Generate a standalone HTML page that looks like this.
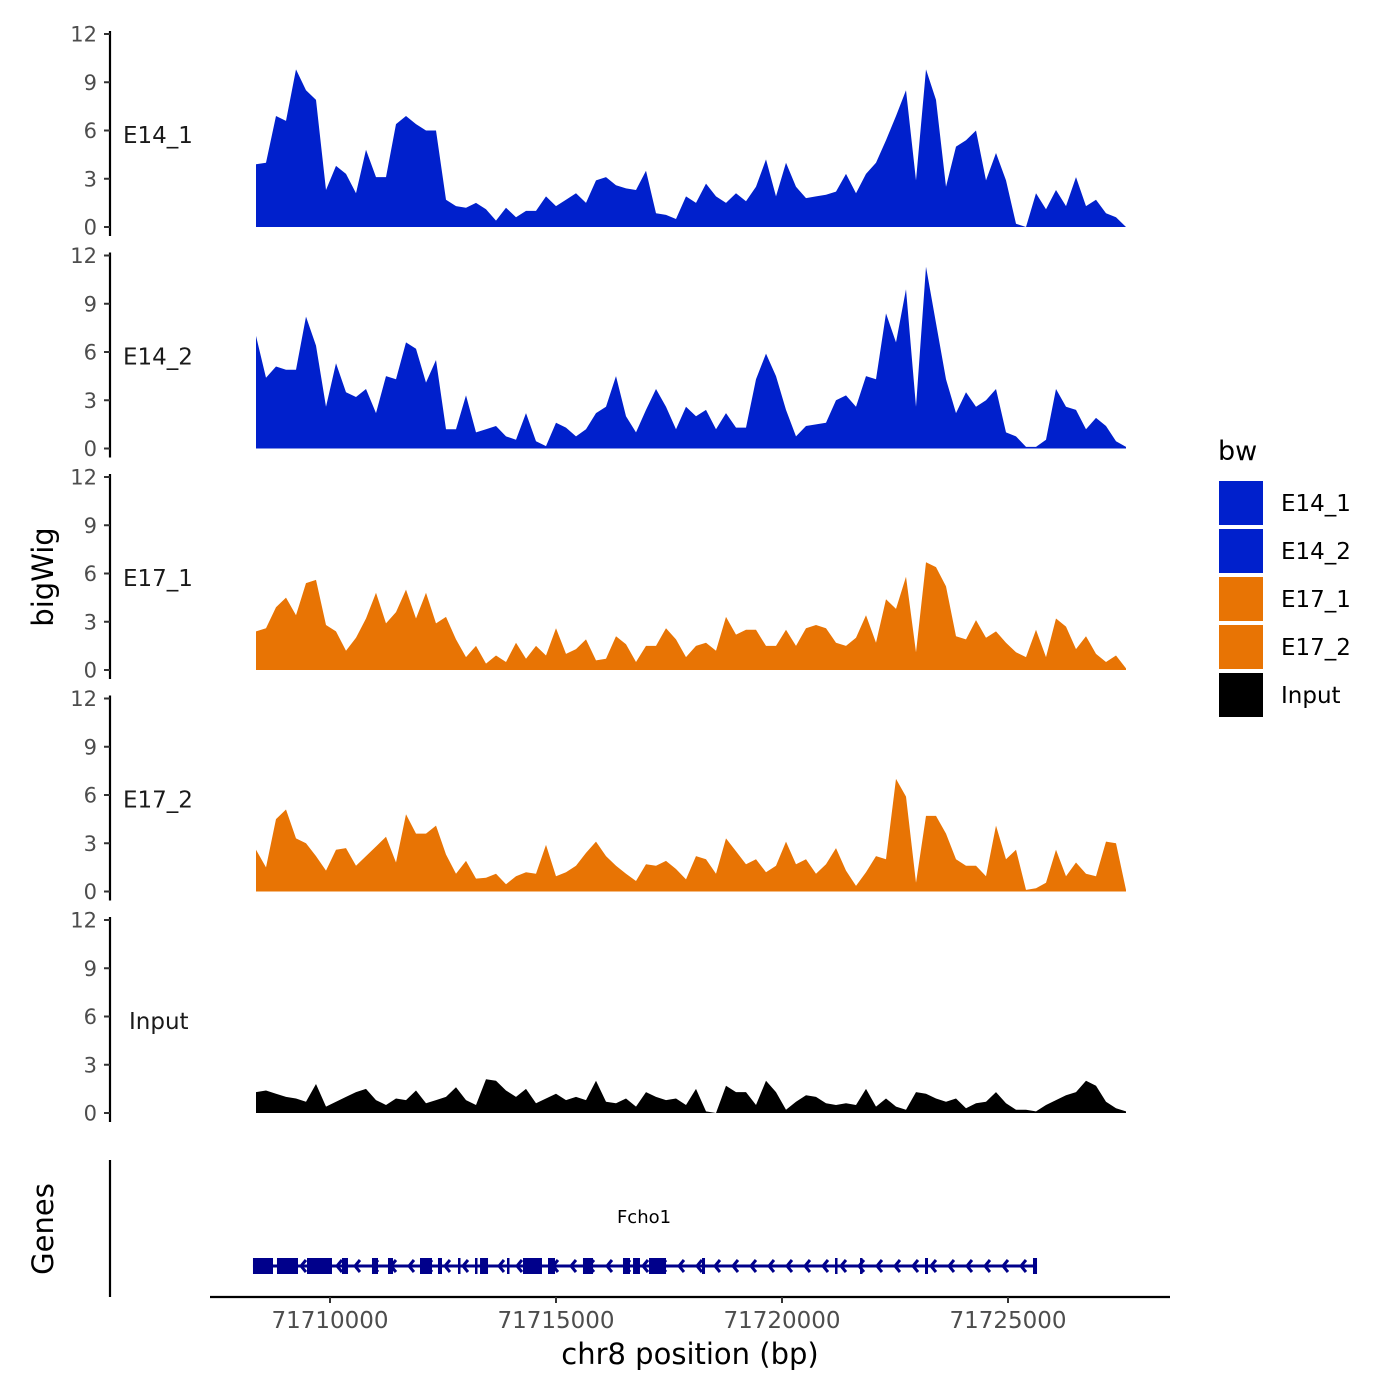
<!DOCTYPE html>
<html><head><meta charset="utf-8"><style>
html,body{margin:0;padding:0;background:#fff}
svg{display:block;font-family:"DejaVu Sans","Liberation Sans",sans-serif}
</style></head><body>
<svg id="chart" width="1400" height="1400" viewBox="0 0 1400 1400" xmlns="http://www.w3.org/2000/svg">
<g id="panels"></g>
<g id="genes"></g>
<g id="xaxis"></g>
<text x="53" y="577" font-size="29" text-anchor="middle" transform="rotate(-90 53 577)">bigWig</text>
<text x="53" y="1229" font-size="29" text-anchor="middle" transform="rotate(-90 53 1229)">Genes</text>
<text x="690" y="1364" font-size="29" text-anchor="middle">chr8 position (bp)</text>
<g>
<text x="1218" y="460" font-size="27">bw</text>
<rect x="1218" y="480" width="46" height="46" fill="#0020cc" stroke="#fff" stroke-width="2"/>
<rect x="1218" y="528" width="46" height="46" fill="#0020cc" stroke="#fff" stroke-width="2"/>
<rect x="1218" y="576" width="46" height="46" fill="#e87404" stroke="#fff" stroke-width="2"/>
<rect x="1218" y="624" width="46" height="46" fill="#e87404" stroke="#fff" stroke-width="2"/>
<rect x="1218" y="672" width="46" height="46" fill="#000" stroke="#fff" stroke-width="2"/>
<text x="1281" y="511" font-size="23">E14_1</text>
<text x="1281" y="559" font-size="23">E14_2</text>
<text x="1281" y="607" font-size="23">E17_1</text>
<text x="1281" y="655" font-size="23">E17_2</text>
<text x="1281" y="703" font-size="23">Input</text>
</g>
</svg>
<script>
const seriesNames = ["E14_1","E14_2","E17_1","E17_2","Input"];
const seriesColors = ["#0020cc","#0020cc","#e87404","#e87404","#000000"];
const startBp = 71708363;
const stepBp = 221.24;
const yTicks = [0,3,6,9,12];
const xTicks = [71710000,71715000,71720000,71725000];
const e14_1 = [3.9,4.0,6.9,6.6,9.8,8.5,7.9,2.3,3.8,3.3,2.1,4.8,3.1,3.1,6.4,6.9,6.4,6.0,6.0,1.7,1.3,1.2,1.5,1.1,0.4,1.2,0.6,1.0,1.0,1.9,1.3,1.7,2.1,1.5,2.9,3.1,2.6,2.4,2.3,3.5,0.85,0.75,0.5,1.9,1.5,2.7,1.9,1.5,2.1,1.6,2.5,4.2,1.9,4.0,2.5,1.8,1.9,2.0,2.2,3.3,2.1,3.3,4.0,5.4,6.9,8.5,2.9,9.8,7.9,2.5,5.0,5.4,6.0,2.9,4.6,2.9,0.2,0,2.1,1.1,2.3,1.3,3.1,1.3,1.7,0.85,0.6,0];
const e14_2 = [7.0,4.4,5.1,4.9,4.9,8.2,6.4,2.6,5.3,3.5,3.2,3.7,2.2,4.5,4.3,6.6,6.2,4.1,5.5,1.2,1.2,3.3,1.0,1.2,1.4,0.75,0.55,2.2,0.45,0.15,1.6,1.3,0.75,1.2,2.2,2.6,4.5,2.0,1.0,2.4,3.7,2.6,1.2,2.6,2.0,2.4,1.2,2.2,1.3,1.3,4.3,5.9,4.5,2.4,0.75,1.4,1.5,1.6,3.0,3.3,2.6,4.5,4.3,8.4,6.6,9.9,2.6,11.3,7.8,4.3,2.2,3.5,2.6,3.0,3.7,1.0,0.75,0.1,0.1,0.55,3.7,2.6,2.4,1.2,1.9,1.4,0.45,0.1];
const e17_1 = [2.4,2.6,3.9,4.5,3.4,5.4,5.6,2.8,2.4,1.2,2.0,3.2,4.8,2.9,3.6,5.0,3.2,4.8,2.9,3.3,1.9,0.8,1.5,0.4,0.9,0.5,1.7,0.7,1.5,0.9,2.6,1.0,1.3,1.9,0.6,0.7,2.1,1.6,0.5,1.5,1.5,2.6,1.9,0.8,1.5,1.7,1.2,3.3,2.2,2.5,2.5,1.5,1.5,2.5,1.5,2.6,2.8,2.6,1.7,1.5,2.0,3.4,1.7,4.4,3.8,5.8,1.1,6.7,6.4,5.2,2.1,1.9,3.1,2.0,2.4,1.7,1.1,0.8,2.5,0.8,3.2,2.7,1.3,2.1,1.0,0.5,0.9,0.1];
const e17_2 = [2.6,1.5,4.5,5.1,3.3,3.0,2.2,1.3,2.6,2.7,1.6,2.2,2.8,3.4,1.8,4.8,3.6,3.6,4.1,2.3,1.1,1.9,0.8,0.85,1.1,0.45,0.95,1.2,1.1,2.9,0.95,1.2,1.6,2.4,3.1,2.2,1.6,1.1,0.65,1.7,1.6,1.9,1.4,0.75,2.2,2.0,1.1,3.3,2.5,1.7,2.0,1.2,1.6,3.1,1.7,2.0,1.1,1.7,2.7,1.3,0.35,1.2,2.2,2.0,7.0,5.9,0.55,4.7,4.7,3.6,2.0,1.6,1.6,0.95,4.1,2.0,2.6,0.1,0.2,0.55,2.6,0.95,1.8,1.1,0.95,3.1,3.0,0.1];
const input = [1.3,1.4,1.2,1.0,0.9,0.7,1.8,0.4,0.7,1.0,1.3,1.5,0.8,0.5,0.9,0.8,1.4,0.6,0.8,1.0,1.6,0.8,0.5,2.1,2.0,1.4,1.0,1.5,0.6,0.9,1.2,0.8,1.0,0.8,2.0,0.7,0.6,0.9,0.4,1.3,1.0,0.8,0.9,0.5,1.5,0.1,0,1.7,1.3,1.3,0.5,2.0,1.3,0.2,0.7,1.1,1.0,0.6,0.5,0.6,0.5,1.5,0.4,0.9,0.4,0.2,1.3,1.2,0.9,0.7,0.9,0.3,0.6,0.7,1.3,0.6,0.2,0.2,0.1,0.5,0.8,1.1,1.3,2.0,1.7,0.7,0.3,0.1];
const allSeries = [e14_1,e14_2,e17_1,e17_2,input];
const exonStarts = [71708296,71708827,71709491,71710265,71710929,71711283,71711991,71712389,71712832,71713208,71713319,71713916,71714270,71714823,71715597,71716482,71716704,71717058,71718230,71721173,71721726,71723164,71725553];
const exonEnds = [71708739,71709292,71710044,71710398,71711062,71711394,71712257,71712478,71712876,71713252,71713496,71713960,71714690,71714978,71715819,71716637,71716858,71717434,71718297,71721217,71721770,71723230,71725642];
const geneStart = 71708296, geneEnd = 71725642, geneName = "Fcho1";

const NS = "http://www.w3.org/2000/svg";
function mk(tag, attrs, parent){const e=document.createElementNS(NS,tag);for(const k in attrs)e.setAttribute(k,attrs[k]);parent.appendChild(e);return e;}
const xScale = bp => 330 + (bp - 71710000) * (678/15000);
const panelBase = [227, 448.5, 670, 891.5, 1113];
const yPx = 193/12;
const panels = document.getElementById('panels');
allSeries.forEach((vals, s) => {
  const base = panelBase[s];
  const y = v => base - v * yPx;
  const g = mk('g', {}, panels);
  
  
  let d = 'M' + xScale(startBp).toFixed(1) + ',' + base;
  vals.forEach((v, i) => { d += ' L' + xScale(startBp + i*stepBp).toFixed(1) + ',' + y(v).toFixed(1); });
  d += ' L' + xScale(startBp + (vals.length-1)*stepBp).toFixed(1) + ',' + base + ' Z';
  const area = mk('path', {d: d, fill: seriesColors[s]}, g);
  
  
  const ax = mk('line', {x1:110, x2:110, y1:y(12)-3, y2:base+9, stroke:'#000', 'stroke-width':2.2}, g);
  
  
  yTicks.forEach(t => {
    const tk = mk('line', {x1:104, x2:110, y1:y(t), y2:y(t), stroke:'#333', 'stroke-width':2}, g);
    
    
    const tl = mk('text', {x:97, y:y(t)+7.5, 'font-size':21, fill:'#4d4d4d', 'text-anchor':'end'}, g);
    tl.textContent = t;
    
    
  });
  const lb = mk('text', {x: s===4?129:123, y: base - 84, 'font-size':23, fill:'#1a1a1a'}, g);
  lb.textContent = seriesNames[s];
  
  
});

// gene track
const gg = document.getElementById('genes');
const gy = 1266;
const ga = mk('line', {x1:110, x2:110, y1:1160, y2:1297, stroke:'#000', 'stroke-width':2.2}, gg);


const gl = mk('line', {x1:xScale(geneStart), x2:xScale(geneEnd), y1:gy, y2:gy, stroke:'#00008b', 'stroke-width':3}, gg);


for (let px = xScale(geneStart) + 12; px < xScale(geneEnd) - 6; px += 18) {
  const ch = mk('path', {d:`M${px+5},${gy-6} L${px},${gy} L${px+5},${gy+6}`, stroke:'#00008b', 'stroke-width':3, fill:'none'}, gg);
  
  
}
exonStarts.forEach((st, i) => {
  const x0 = xScale(st), x1 = xScale(exonEnds[i]);
  const ex = mk('rect', {x:x0, y:gy-8, width:Math.max(x1-x0,2.5), height:16, fill:'#00008b'}, gg);
  
  
});
const gn = mk('text', {x:644, y:1223, 'font-size':18, 'text-anchor':'middle', fill:'#000'}, gg);
gn.textContent = geneName;



// x axis
const xa = document.getElementById('xaxis');
const xl = mk('line', {x1:210, x2:1170, y1:1297, y2:1297, stroke:'#000', 'stroke-width':2.2}, xa);


xTicks.forEach(t => {
  const tk = mk('line', {x1:xScale(t), x2:xScale(t), y1:1297, y2:1303, stroke:'#333', 'stroke-width':2}, xa);
  
  
  const tl = mk('text', {x:xScale(t), y:1328, 'font-size':23, fill:'#4d4d4d', 'text-anchor':'middle'}, xa);
  tl.textContent = t;
  
  
});
</script>
</body></html>
